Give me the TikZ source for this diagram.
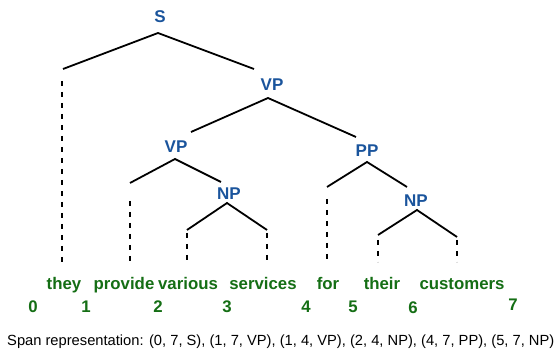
\documentclass[tikz,border=0pt]{standalone}
\usepackage{fontspec}
\setmainfont{Liberation Sans}
\definecolor{catblue}{RGB}{26,84,156}
\definecolor{wordgreen}{RGB}{20,110,20}
\tikzset{
  cat/.style={anchor=base, inner sep=0pt, text=catblue, font=\fontsize{17}{20}\selectfont\bfseries},
  word/.style={anchor=base, inner sep=0pt, text=wordgreen, font=\fontsize{16.8}{20}\selectfont\bfseries},
  idx/.style={anchor=base, inner sep=0pt, text=wordgreen, font=\fontsize{16.8}{20}\selectfont\bfseries},
  branch/.style={line width=1.8pt, line cap=butt},
  leafline/.style={line width=1.8pt, dash pattern=on 5pt off 6pt},
}
\begin{document}
\begin{tikzpicture}[x=1pt,y=-1pt]
\useasboundingbox (0,0) rectangle (558,352);
% category labels
\node[cat] (S) at (160,23) {S};
\node[cat] (VPa) at (272,91) {VP};
\node[cat] (VPb) at (176,153) {VP};
\node[cat] (NPa) at (229,200) {NP};
\node[cat] (PP) at (367,157) {PP};
\node[cat] (NPb) at (416,207) {NP};
% apexes
\coordinate (Sa) at (158,33);
\coordinate (VPaa) at (268,98);
\coordinate (VPba) at (175,159);
\coordinate (NPaa) at (227,203);
\coordinate (PPa) at (367,162);
\coordinate (NPba) at (417,210);
% branch ends
\coordinate (SL) at (63,69);   \coordinate (SR) at (254,69);
\coordinate (VPaL) at (191,132); \coordinate (VPaR) at (356,137);
\coordinate (VPbL) at (130,183); \coordinate (VPbR) at (221,182);
\coordinate (NPaL) at (187,230); \coordinate (NPaR) at (267,230);
\coordinate (PPL) at (327,187); \coordinate (PPR) at (407,187);
\coordinate (NPbL) at (378,235); \coordinate (NPbR) at (457,237);
\draw[branch] (SL) -- (Sa) -- (SR);
\draw[branch] (VPaL) -- (VPaa) -- (VPaR);
\draw[branch] (VPbL) -- (VPba) -- (VPbR);
\draw[branch] (NPaL) -- (NPaa) -- (NPaR);
\draw[branch] (PPL) -- (PPa) -- (PPR);
\draw[branch] (NPbL) -- (NPba) -- (NPbR);
% leaf dashed lines
\coordinate (t1) at (62,81);   \coordinate (t2) at (62,262);
\coordinate (p1) at (130,201); \coordinate (p2) at (130,262);
\coordinate (v1) at (187,233); \coordinate (v2) at (187,262);
\coordinate (s1) at (267,233); \coordinate (s2) at (267,262);
\coordinate (f1) at (327,199); \coordinate (f2) at (327,262);
\coordinate (h1) at (378,240); \coordinate (h2) at (378,262);
\coordinate (c1) at (457,240); \coordinate (c2) at (457,262);
\foreach \a/\b in {t1/t2,p1/p2,v1/v2,s1/s2,f1/f2,h1/h2,c1/c2}
  \draw[leafline] (\a) -- (\b);
% words
\node[word] (w1) at (64,290) {they};
\node[word] (w2) at (124,290) {provide};
\node[word] (w3) at (188,290) {various};
\node[word] (w4) at (263,290) {services};
\node[word] (w5) at (328,290) {for};
\node[word] (w6) at (382,290) {their};
\node[word] (w7) at (462,290) {customers};
% indices
\node[idx] (i0) at (33,313) {0};
\node[idx] (i1) at (86,313) {1};
\node[idx] (i2) at (158,313) {2};
\node[idx] (i3) at (227,313) {3};
\node[idx] (i4) at (306,313) {4};
\node[idx] (i5) at (353,313) {5};
\node[idx] (i6) at (413,314) {6};
\node[idx] (i7) at (513,311) {7};
% span text
\node[anchor=base west, inner sep=0pt, font=\fontsize{14.7}{17}\selectfont] (span) at (7,346)
  {Span representation: (0, 7, S), (1, 7, VP), (1, 4, VP), (2, 4, NP), (4, 7, PP), (5, 7, NP)};
\end{tikzpicture}
\end{document}
